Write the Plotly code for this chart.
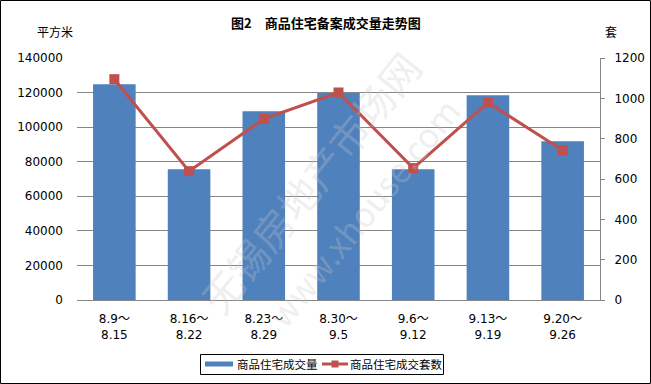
import plotly.graph_objects as go

categories = ["8.9～<br>8.15", "8.16～<br>8.22", "8.23～<br>8.29", "8.30～<br>9.5",
              "9.6～<br>9.12", "9.13～<br>9.19", "9.20～<br>9.26"]
area_values = [124800, 75700, 109200, 119800, 75700, 118400, 91900]
unit_values = [1095, 639, 898, 1029, 654, 979, 743]
left_ticks = [0, 20000, 40000, 60000, 80000, 100000, 120000, 140000]
right_ticks = [0, 200, 400, 600, 800, 1000, 1200]
series_names = ["商品住宅成交量", "商品住宅成交套数"]

BLUE, RED = "#4F81BD", "#C0504D"
FONT = "Tahoma, DejaVu Sans, Noto Sans CJK SC"
CJK = "Noto Sans CJK SC"

fig = go.Figure()
fig.add_trace(go.Bar(
    x=categories, y=area_values, name=series_names[0],
    marker=dict(color=BLUE, line=dict(width=0)), showlegend=False,
))
fig.add_trace(go.Scatter(
    x=categories, y=unit_values, name=series_names[1], yaxis="y2",
    mode="lines+markers",
    line=dict(color=RED, width=3),
    marker=dict(symbol="square", size=10, color=RED), showlegend=False,
))

L, R, T, B = 77, 51, 58, 84
W, H = 651, 384
pw, ph = W - L - R, H - T - B

def px(x):
    return (x - L) / pw

def py(y):
    return (H - B - y) / ph

def prect(x0, y0, x1, y1, **kw):
    return dict(type="rect", xref="paper", yref="paper",
                x0=px(x0), x1=px(x1), y0=py(y1), y1=py(y0), **kw)

shapes = [
    prect(0.5, 0.5, 650.5, 383.5, line=dict(color="black", width=1), layer="below"),
    # legend box
    prect(200.5, 354.5, 443.5, 374.5, line=dict(color="black", width=1),
          fillcolor="white"),
    # legend symbol: bar series
    prect(205, 361.5, 233, 366.5, line=dict(width=0), fillcolor=BLUE),
    # legend symbol: line series
    dict(type="line", xref="paper", yref="paper", x0=px(322), x1=px(348),
         y0=py(364), y1=py(364), line=dict(color=RED, width=3)),
    prect(331.5, 360.5, 338.5, 367.5, line=dict(width=0), fillcolor=RED),
]

annotations = [
    dict(text="<b>图2　商品住宅备案成交量走势图</b>", x=px(326), y=py(22),
         xanchor="center", yanchor="middle", font=dict(family=CJK, size=13)),
    dict(text="平方米", x=px(55), y=py(32), xanchor="center", yanchor="middle",
         font=dict(family=CJK, size=12)),
    dict(text="套", x=px(611), y=py(32), xanchor="center", yanchor="middle",
         font=dict(family=CJK, size=12)),
    dict(text=series_names[0], x=px(235), y=py(364), xanchor="left", yanchor="middle",
         font=dict(family=CJK, size=11.5)),
    dict(text=series_names[1], x=px(348), y=py(364), xanchor="left", yanchor="middle",
         font=dict(family=CJK, size=11.5)),
    dict(text="无锡房地产市场网", x=px(310), y=py(182), xanchor="center", yanchor="middle",
         textangle=-51, font=dict(family=CJK, size=40, color="rgba(200,200,200,0.3)")),
    dict(text="www.xhouse.com", x=px(362), y=py(212), xanchor="center", yanchor="middle",
         textangle=-51, font=dict(family=CJK, size=34, color="rgba(200,200,200,0.3)")),
]
for a in annotations:
    a.update(xref="paper", yref="paper", showarrow=False)

fig.update_layout(
    width=W, height=H,
    margin=dict(l=L, r=R, t=T, b=B, autoexpand=False),
    paper_bgcolor="white", plot_bgcolor="white",
    font=dict(family=FONT, size=12, color="black"),
    bargap=0.43,
    showlegend=False,
    xaxis=dict(type="category", showgrid=False, showline=True, linecolor="#868686",
               linewidth=1, ticks="", tickfont=dict(size=12), ticklabelstandoff=8,
               automargin=False),
    yaxis=dict(range=[0, 140000], tickvals=left_ticks,
               ticktext=[str(v) for v in left_ticks],
               showgrid=True, gridcolor="#868686",
               gridwidth=1, showline=False, zeroline=False, ticks="",
               tickfont=dict(size=12), ticklabelstandoff=13, automargin=False),
    yaxis2=dict(range=[0, 1200], tickvals=right_ticks,
                ticktext=[str(v) for v in right_ticks],
                overlaying="y", side="right",
                showgrid=False, showline=True, linecolor="#868686", linewidth=1,
                ticks="outside", ticklen=4, tickcolor="#868686", zeroline=False,
                tickfont=dict(size=12), ticklabelstandoff=7, automargin=False),
    shapes=shapes,
    annotations=annotations,
)

fig.write_html("out.html")
